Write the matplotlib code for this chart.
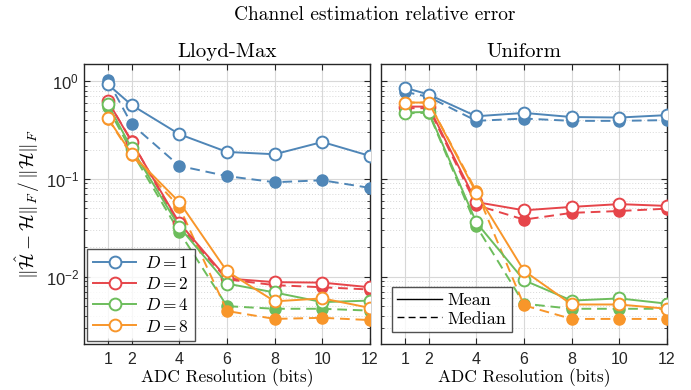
import matplotlib
matplotlib.use("Agg")
from matplotlib import pyplot as plt
from matplotlib.lines import Line2D

plt.rcParams['font.family'] = 'Liberation Sans'
plt.rcParams['mathtext.fontset'] = 'cm'

bits = [1, 2, 4, 6, 8, 10, 12]
d_values = [1, 2, 4, 8]

# Lloyd-Max quantizer
lm_mean = {
    1: [0.93, 0.57, 0.287, 0.189, 0.179, 0.239, 0.172],
    2: [0.63, 0.24, 0.0355, 0.0096, 0.0088, 0.0087, 0.0078],
    4: [0.58, 0.205, 0.0323, 0.0085, 0.0069, 0.0055, 0.0057],
    8: [0.42, 0.18, 0.058, 0.01135, 0.0056, 0.0060, 0.0048],
}
lm_median = {
    1: [1.02, 0.363, 0.136, 0.107, 0.0926, 0.097, 0.081],
    2: [0.62, 0.245, 0.033, 0.0094, 0.0082, 0.0078, 0.0074],
    4: [0.54, 0.19, 0.0287, 0.0050, 0.0047, 0.0047, 0.0045],
    8: [0.415, 0.175, 0.0517, 0.00446, 0.0037, 0.0038, 0.0036],
}

# Uniform quantizer
un_mean = {
    1: [0.86, 0.73, 0.438, 0.474, 0.43, 0.425, 0.45],
    2: [0.55, 0.55, 0.058, 0.0478, 0.0518, 0.0553, 0.053],
    4: [0.478, 0.485, 0.0359, 0.0092, 0.0057, 0.0060, 0.0053],
    8: [0.605, 0.605, 0.072, 0.0115, 0.0052, 0.0052, 0.0047],
}
un_median = {
    1: [0.78, 0.69, 0.393, 0.415, 0.393, 0.393, 0.40],
    2: [0.53, 0.53, 0.054, 0.0384, 0.045, 0.047, 0.0497],
    4: [0.47, 0.475, 0.033, 0.0053, 0.0047, 0.0047, 0.0047],
    8: [0.605, 0.605, 0.075, 0.0051, 0.0037, 0.0037, 0.0037],
}

colors = {1: '#4f86b7', 2: '#e6454a', 4: '#6dbd5c', 8: '#f8962a'}

fig = plt.figure(figsize=(6.91, 3.90), dpi=100)
ax1 = fig.add_axes([84 / 691, 1 - 344 / 390, 286 / 691, 280 / 390])
ax2 = fig.add_axes([381 / 691, 1 - 344 / 390, 286 / 691, 280 / 390])

serif = 'cmr10'

for ax, mean, median, title in [(ax1, lm_mean, lm_median, 'Lloyd-Max'),
                                (ax2, un_mean, un_median, 'Uniform')]:
    for d in d_values:
        c = colors[d]
        ax.plot(bits, median[d], '--', color=c, lw=1.4, marker='o', ms=8,
                mfc=c, mec=c, dashes=(5, 3), zorder=3)
        ax.plot(bits, mean[d], '-', color=c, lw=1.4, marker='o', ms=8.5,
                mfc='white', mec=c, mew=1.4, zorder=4)
    ax.set_yscale('log')
    ax.set_xlim(0, 12)
    ax.set_ylim(2.05e-3, 1.5)
    ax.set_xticks(bits)
    ax.set_xticklabels([str(b) for b in bits], fontsize=11.5)
    ax.set_yticks([1e-2, 1e-1, 1])
    ax.set_yticklabels([r'$\mathregular{10^{-2}}$', r'$\mathregular{10^{-1}}$',
                        r'$\mathregular{10^{0}}$'], fontsize=12)
    ax.tick_params(which='both', direction='in', top=True, right=True,
                   colors='#262626')
    ax.tick_params(which='major', length=4)
    ax.tick_params(which='minor', length=2.5)
    ax.tick_params(axis='x', pad=6)
    ax.grid(True, which='major', color='#d8d8d8', lw=0.8)
    ax.grid(True, which='minor', axis='y', color='#d8d8d8', lw=0.7, ls=(0, (1, 2)))
    ax.set_axisbelow(True)
    for s in ax.spines.values():
        s.set_color('#262626')
        s.set_linewidth(1.0)
    ax.set_title(title, family=serif, fontsize=15, pad=5)
    ax.set_xlabel('ADC Resolution (bits)', family=serif, fontsize=12.5, labelpad=0.5)

ax2.set_yticklabels([])
ax2.tick_params(which='both', labelleft=False)

ax1.set_ylabel(r'$\|\hat{\mathcal{H}} - \mathcal{H}\|_F\,/\,\|\mathcal{H}\|_F$',
               fontsize=14, labelpad=3)

fig.text(0.542, 0.962, 'Channel estimation relative error', family=serif,
         fontsize=14, ha='center', va='center')

d_handles = [Line2D([], [], color=colors[d], lw=1.4, marker='o', ms=8.5,
                    mfc='white', mec=colors[d], mew=1.4) for d in d_values]
leg1 = ax1.legend(d_handles, [r'$D = %d$' % d for d in d_values], loc='lower left',
                  bbox_to_anchor=(0.01, 0.012), borderaxespad=0,
                  fontsize=12.5, frameon=True, fancybox=False, edgecolor='#262626',
                  handlelength=2.5, labelspacing=0.3,
                  handletextpad=0.5, borderpad=0.35)
leg1.get_frame().set_linewidth(1.0)

s_handles = [Line2D([], [], color='black', lw=1.0),
             Line2D([], [], color='black', lw=1.0, ls='--', dashes=(5, 3))]
leg2 = ax2.legend(s_handles, ['Mean', 'Median'], loc='lower left',
                  bbox_to_anchor=(0.038, 0.043), borderaxespad=0,
                  prop={'family': serif, 'size': 13},
                  frameon=True, fancybox=False, edgecolor='#262626',
                  handlelength=2.5, labelspacing=0.15, handletextpad=0.3,
                  borderpad=0.3)
leg2.get_frame().set_linewidth(1.0)

fig.savefig('out.png', dpi=100)
